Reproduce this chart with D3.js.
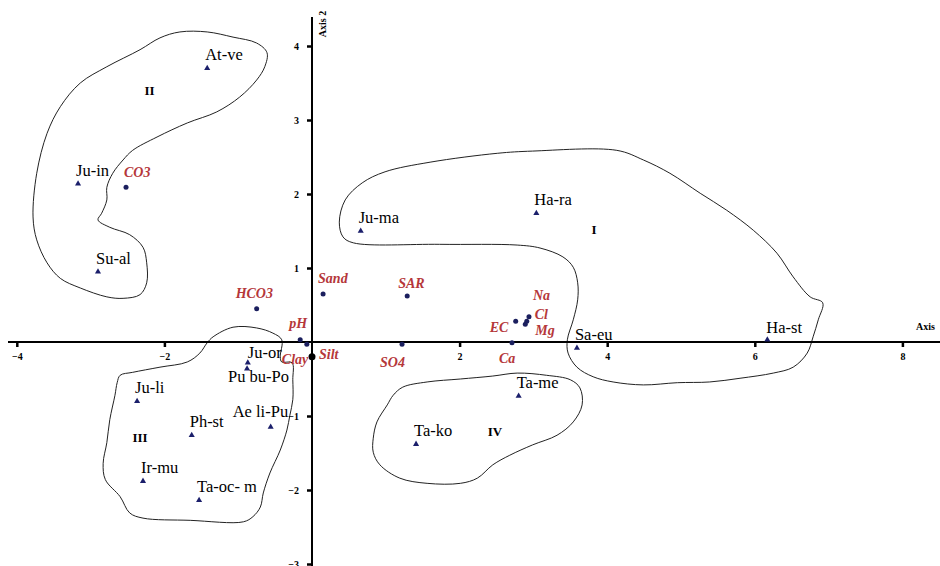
<!DOCTYPE html>
<html>
<head>
<meta charset="utf-8">
<script src="https://cdn.jsdelivr.net/npm/d3@7"></script>
<style>
  body { margin: 0; background: #fff; }
  svg { display: block; }
</style>
</head>
<body>
<div id="chart"></div>
<script>
// species scores (triangles)
var speciesNames = ['At-ve', 'Ju-in', 'Su-al', 'Ju-ma', 'Ha-ra', 'Ha-st', 'Sa-eu', 'Ta-me',
  'Ta-ko', 'Ju-or', 'Pu bu-Po', 'Ju-li', 'Ae li-Pu', 'Ph-st', 'Ir-mu', 'Ta-oc- m'];
var speciesX = [-1.42, -3.17, -2.90, 0.66, 3.04, 6.17, 3.59, 2.80,
  1.41, -0.87, -0.88, -2.37, -0.56, -1.63, -2.29, -1.53];
var speciesY = [3.70, 2.14, 0.95, 1.50, 1.74, 0.03, -0.08, -0.73,
  -1.38, -0.28, -0.36, -0.80, -1.15, -1.26, -1.88, -2.14];

// environmental variables (dots)
var envNames = ['CO3', 'HCO3', 'Sand', 'SAR', 'pH', 'Clay', 'Silt', 'SO4', 'EC', 'Na', 'Cl', 'Mg', 'Ca'];
var envX = [-2.52, -0.75, 0.15, 1.29, -0.16, -0.07, 0.00, 1.22, 2.76, 2.94, 2.91, 2.89, 2.71];
var envY = [2.09, 0.45, 0.65, 0.62, 0.03, -0.03, -0.20, -0.03, 0.28, 0.34, 0.28, 0.24, -0.01];

// axis ticks
var xTicks = [-4, -2, 2, 4, 6, 8];
var yTicks = [-3, -2, -1, 1, 2, 3, 4];

// group names and their positions
var groupNames = ['I', 'II', 'III', 'IV'];
var groupX = [3.82, -2.20, -2.33, 2.48];
var groupY = [1.53, 3.41, -1.28, -1.20];

// hand drawn group outlines, in axis units
var outlineI = [[0.37,1.62],[0.45,1.92],[0.68,2.15],[0.99,2.30],[1.60,2.43],[2.51,2.55],[2.99,2.58],
  [4.13,2.59],[4.49,2.46],[4.85,2.28],[5.26,2.01],[5.62,1.78],[5.98,1.51],[6.30,1.20],[6.52,0.88],
  [6.75,0.61],[6.92,0.53],[6.86,0.30],[6.79,0.07],[6.71,-0.15],[6.52,-0.34],[6.25,-0.42],[5.80,-0.49],
  [5.39,-0.54],[4.95,-0.55],[4.49,-0.58],[4.08,-0.54],[3.81,-0.47],[3.59,-0.34],[3.47,-0.15],[3.46,0.03],
  [3.54,0.30],[3.60,0.57],[3.60,0.80],[3.54,1.01],[3.40,1.15],[3.09,1.27],[2.78,1.31],[1.73,1.32],
  [0.56,1.34],[0.42,1.42]];
var outlineII = [[-1.79,4.19],[-1.42,4.19],[-1.07,4.12],[-0.75,4.04],[-0.61,3.91],[-0.64,3.72],
  [-0.75,3.54],[-0.98,3.31],[-1.29,3.11],[-1.69,2.96],[-2.10,2.77],[-2.43,2.59],[-2.56,2.46],
  [-2.70,2.28],[-2.78,2.09],[-2.78,1.92],[-2.85,1.74],[-2.90,1.65],[-2.74,1.55],[-2.47,1.45],
  [-2.29,1.28],[-2.24,1.07],[-2.24,0.80],[-2.33,0.64],[-2.56,0.59],[-2.78,0.61],[-3.14,0.73],
  [-3.41,0.86],[-3.59,1.07],[-3.73,1.38],[-3.78,1.69],[-3.73,2.28],[-3.59,2.82],[-3.41,3.18],
  [-3.14,3.50],[-2.78,3.72],[-2.33,3.95],[-2.06,4.11]];
var outlineIII = [[-1.34,0.07],[-1.07,0.20],[-0.75,0.19],[-0.53,0.12],[-0.41,0.03],[-0.43,-0.20],
  [-0.41,-0.27],[-0.27,-0.28],[-0.26,-0.51],[-0.26,-0.78],[-0.30,-0.99],[-0.34,-1.19],[-0.43,-1.46],
  [-0.57,-1.77],[-0.66,-2.04],[-0.70,-2.23],[-0.80,-2.36],[-0.93,-2.43],[-1.65,-2.41],[-2.29,-2.38],
  [-2.47,-2.31],[-2.60,-2.09],[-2.80,-1.86],[-2.83,-1.64],[-2.78,-1.36],[-2.74,-1.05],[-2.67,-0.72],
  [-2.64,-0.55],[-2.60,-0.45],[-2.43,-0.41],[-2.06,-0.34],[-1.69,-0.27],[-1.52,-0.15],[-1.42,-0.01]];
var outlineIV = [[1.10,-0.72],[1.23,-0.61],[1.56,-0.54],[2.01,-0.50],[2.45,-0.46],[2.78,-0.42],
  [3.18,-0.45],[3.50,-0.51],[3.63,-0.62],[3.66,-0.85],[3.54,-1.08],[3.32,-1.26],[2.99,-1.39],
  [2.68,-1.53],[2.45,-1.66],[2.24,-1.84],[2.01,-1.91],[1.56,-1.91],[1.19,-1.84],[0.92,-1.66],
  [0.83,-1.49],[0.83,-1.30],[0.88,-1.08],[1.02,-0.85]];

var width = 940, height = 566;

// label placement tweaks (pixels from the mark)
var speciesOffset = {
  'Ju-or': [0, -5],
  'Pu bu-Po': [-19, 13],
  'Ae li-Pu': [-38, -10],
  'Ha-st': [-1, -7]
};
var envOffset = {
  'CO3': [-2, -10], 'HCO3': [-21, -11], 'Sand': [-5, -11], 'SAR': [-9, -8],
  'pH': [-11, -12], 'Clay': [-25, 20], 'Silt': [7, 2], 'SO4': [-22, 23],
  'EC': [-26, 11], 'Na': [4, -17], 'Cl': [8, -2], 'Mg': [10, 11], 'Ca': [-13, 20]
};

var svg = d3.select('#chart').append('svg')
  .attr('width', width).attr('height', height);

var x = d3.scaleLinear().domain([-4, 8]).range([16.8, 902.4]);
var y = d3.scaleLinear().domain([-3, 4]).range([564, 46]);

// outlines first so everything else sits on top
var outline = d3.line()
  .x(function(d) { return x(d[0]); })
  .y(function(d) { return y(d[1]); })
  .curve(d3.curveCatmullRomClosed.alpha(0.5));

svg.selectAll('path.group')
  .data([outlineI, outlineII, outlineIII, outlineIV])
  .enter().append('path')
  .attr('class', 'group')
  .attr('d', outline)
  .attr('fill', 'none')
  .attr('stroke', '#222')
  .attr('stroke-width', 1);

svg.selectAll('text.gname')
  .data(groupNames)
  .enter().append('text')
  .attr('class', 'gname')
  .attr('x', function(d, i) { return x(groupX[i]); })
  .attr('y', function(d, i) { return y(groupY[i]) + 5; })
  .attr('text-anchor', 'middle')
  .style('font-family', 'Liberation Serif, serif')
  .style('font-size', '13px')
  .style('font-weight', 'bold')
  .text(function(d) { return d; });

// axes through the origin
var xAxis = d3.axisBottom(x).tickValues(xTicks).tickSize(5).tickPadding(6).tickFormat(d3.format('d'));
var yAxis = d3.axisLeft(y).tickValues(yTicks).tickSize(5).tickPadding(6).tickFormat(d3.format('d'));

var gx = svg.append('g').attr('transform', 'translate(0,' + y(0) + ')').call(xAxis);
var gy = svg.append('g').attr('transform', 'translate(' + x(0) + ',0)').call(yAxis);

gx.select('.domain').attr('d', 'M8,0H' + width);
gy.select('.domain').attr('d', 'M0,17V' + height);

[gx, gy].forEach(function(g) {
  g.select('.domain').attr('stroke', '#000').attr('stroke-width', 2);
  g.selectAll('.tick line').attr('stroke', '#000').attr('stroke-width', 2.5);
  g.selectAll('.tick text')
    .style('font-family', 'Liberation Serif, serif')
    .style('font-size', '10px')
    .style('font-weight', 'bold')
    .attr('fill', '#000');
});
gx.selectAll('.tick line').attr('y1', -1);
gy.selectAll('.tick text').attr('dx', '-2');

svg.append('text')
  .attr('x', 935).attr('y', y(0) - 12)
  .attr('text-anchor', 'end')
  .style('font-family', 'Liberation Serif, serif')
  .style('font-size', '10px')
  .style('font-weight', 'bold')
  .text('Axis');

svg.append('text')
  .attr('transform', 'translate(' + (x(0) + 14) + ',24) rotate(-90)')
  .attr('text-anchor', 'middle')
  .style('font-family', 'Liberation Serif, serif')
  .style('font-size', '10px')
  .style('font-weight', 'bold')
  .text('Axis 2');

// species
var tri = d3.symbol().type(d3.symbolTriangle).size(16);
svg.selectAll('path.sp')
  .data(speciesNames)
  .enter().append('path')
  .attr('class', 'sp')
  .attr('d', tri)
  .attr('transform', function(d, i) { return 'translate(' + x(speciesX[i]) + ',' + y(speciesY[i]) + ')'; })
  .attr('fill', '#1b1f6b');

svg.selectAll('text.sp')
  .data(speciesNames)
  .enter().append('text')
  .attr('class', 'sp')
  .attr('x', function(d, i) { return x(speciesX[i]) + (speciesOffset[d] ? speciesOffset[d][0] : -2); })
  .attr('y', function(d, i) { return y(speciesY[i]) + (speciesOffset[d] ? speciesOffset[d][1] : -8); })
  .style('font-family', 'Liberation Serif, serif')
  .style('font-size', '16.5px')
  .attr('fill', '#000')
  .text(function(d) { return d; });

// environmental variables
svg.selectAll('circle.env')
  .data(envNames)
  .enter().append('circle')
  .attr('class', 'env')
  .attr('cx', function(d, i) { return x(envX[i]); })
  .attr('cy', function(d, i) { return y(envY[i]); })
  .attr('r', function(d) { return d === 'Silt' ? 3.5 : 2.5; })
  .attr('fill', function(d) { return d === 'Silt' ? '#000' : '#1b1f5e'; });

svg.selectAll('text.env')
  .data(envNames)
  .enter().append('text')
  .attr('class', 'env')
  .attr('x', function(d, i) { return x(envX[i]) + envOffset[d][0]; })
  .attr('y', function(d, i) { return y(envY[i]) + envOffset[d][1]; })
  .style('font-family', 'Liberation Serif, serif')
  .style('font-size', '14px')
  .style('font-weight', 'bold')
  .style('font-style', 'italic')
  .attr('fill', '#b5373a')
  .text(function(d) { return d; });
</script>
</body>
</html>
